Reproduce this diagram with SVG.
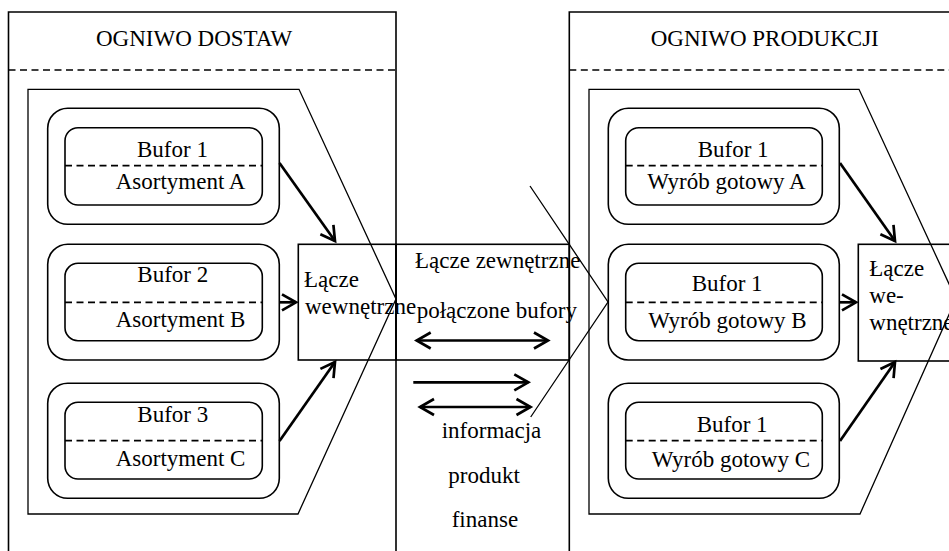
<svg xmlns="http://www.w3.org/2000/svg" width="949" height="551" viewBox="0 0 949 551">
<defs>
<style>
.t{font-family:'Liberation Serif','DejaVu Serif',serif;font-size:23px;fill:#000}
.box{fill:none;stroke:#000;stroke-width:1.6}
.pent{fill:none;stroke:#000;stroke-width:1.3}
.dash{fill:none;stroke:#000;stroke-width:1.7;stroke-dasharray:7 4.5}
.arr{fill:none;stroke:#000;stroke-width:2.7;marker-end:url(#ah)}
.dbl{fill:none;stroke:#000;stroke-width:2.7;marker-end:url(#ah);marker-start:url(#ah)}
.thin{fill:none;stroke:#000;stroke-width:1.3}
</style>
<marker id="ah" viewBox="-18 -11 22 22" refX="0" refY="0" markerWidth="22" markerHeight="22" markerUnits="userSpaceOnUse" orient="auto-start-reverse">
<path d="M-14,-8 L0,0 L-14,8" fill="none" stroke="#000" stroke-width="2.7"/>
</marker>
</defs>
<rect width="949" height="551" fill="#fff"/>

<g class="t" font-family="'Liberation Serif', 'DejaVu Serif', serif" font-size="23">
<g id="ogniwo-dostaw">
<path class="box" d="M8.5,560 V12 H396 V560"/>
<line class="dash" x1="8.5" y1="70" x2="396" y2="70"/>
<text x="96" y="46">OGNIWO DOSTAW</text>
<polygon class="pent" points="28,89.3 299,89.3 396,299 298,514 28,514"/>
</g>

<g id="bufor-1-a">
<rect class="box" x="47.7" y="108.3" width="231.6" height="116" rx="20"/>
<rect class="box" x="65" y="127.7" width="197.3" height="77.3" rx="13"/>
<line class="dash" x1="65" y1="165.7" x2="262.3" y2="165.7"/>
<text x="137" y="157.3">Bufor 1</text>
<text x="115.7" y="189.3">Asortyment A</text>
</g>
<g id="bufor-2-b">
<rect class="box" x="47.7" y="244.3" width="231.6" height="115.7" rx="20"/>
<rect class="box" x="65" y="263.3" width="197.3" height="77.4" rx="13"/>
<line class="dash" x1="65" y1="302.3" x2="262.3" y2="302.3"/>
<text x="137.3" y="282.3">Bufor 2</text>
<text x="115.7" y="326.7">Asortyment B</text>
</g>
<g id="bufor-3-c">
<rect class="box" x="47.7" y="383.3" width="231.6" height="115" rx="20"/>
<rect class="box" x="65" y="402.3" width="197.3" height="76.7" rx="13"/>
<line class="dash" x1="65" y1="440.7" x2="262.3" y2="440.7"/>
<text x="137.3" y="421.7">Bufor 3</text>
<text x="115.7" y="466">Asortyment C</text>
</g>
<g id="lacze-wewnetrzne-1">
<rect class="box" x="298.3" y="244.3" width="97.7" height="115.7"/>
<text x="304" y="287.3">Łącze</text>
<text x="305" y="313.5">wewnętrzne</text>
</g>

<g id="lacze-zewnetrzne">
<rect class="box" x="396" y="244.3" width="173.3" height="115.7"/>
<text x="415" y="268.3">Łącze zewnętrzne</text>
<text x="416.7" y="318">połączone bufory</text>
<text x="441.7" y="438.3">informacja</text>
<text x="448.3" y="483.3">produkt</text>
<text x="451.7" y="527.3">finanse</text>
</g>

<g id="ogniwo-produkcji">
<path class="box" d="M569.3,560 V12 H960"/>
<line class="dash" x1="569.3" y1="70" x2="960" y2="70"/>
<text x="650.7" y="46">OGNIWO PRODUKCJI</text>
<polygon class="pent" points="589,89.3 859,89.3 956,299 860,514 589,514"/>
</g>

<g id="bufor-1-wyrob-a">
<rect class="box" x="608.3" y="108.3" width="231" height="116" rx="20"/>
<rect class="box" x="625.7" y="127.7" width="196.6" height="77.3" rx="13"/>
<line class="dash" x1="625.7" y1="165.7" x2="822.3" y2="165.7"/>
<text x="697.7" y="157.3">Bufor 1</text>
<text x="647.3" y="189.3">Wyrób gotowy A</text>
</g>
<g id="bufor-1-wyrob-b">
<rect class="box" x="608.3" y="244.3" width="231" height="115.7" rx="20"/>
<rect class="box" x="625.7" y="263.3" width="196.6" height="77.4" rx="13"/>
<line class="dash" x1="625.7" y1="302.3" x2="822.3" y2="302.3"/>
<text x="691.7" y="291">Bufor 1</text>
<text x="648.3" y="328.3">Wyrób gotowy B</text>
</g>
<g id="bufor-1-wyrob-c">
<rect class="box" x="608.3" y="383.3" width="231" height="115" rx="20"/>
<rect class="box" x="625.7" y="402.3" width="196.6" height="76.7" rx="13"/>
<line class="dash" x1="625.7" y1="440.7" x2="822.3" y2="440.7"/>
<text x="696.7" y="431.7">Bufor 1</text>
<text x="651.7" y="466.7">Wyrób gotowy C</text>
</g>
<g id="lacze-wewnetrzne-2">
<rect class="box" x="858.3" y="244.3" width="110" height="116.7"/>
<text x="869.3" y="276">Łącze</text>
<text x="869.3" y="303.3">we-</text>
<text x="869.3" y="330">wnętrzne</text>
</g>
</g>

<g id="connectors">
<line class="arr" x1="279.5" y1="163" x2="335" y2="241"/>
<line class="arr" x1="279.5" y1="302.3" x2="296" y2="302.3"/>
<line class="arr" x1="279.5" y1="441" x2="335" y2="362"/>
<line class="arr" x1="840" y1="163" x2="895" y2="241"/>
<line class="arr" x1="840" y1="302.3" x2="856" y2="302.3"/>
<line class="arr" x1="840" y1="441" x2="895" y2="362"/>
<line class="dbl" x1="416.7" y1="340.5" x2="548" y2="340.5"/>
<line class="arr" x1="413.3" y1="382.3" x2="528.3" y2="382.3"/>
<line class="dbl" x1="420" y1="407" x2="530.5" y2="407"/>
<polyline class="thin" points="530,186 608,302 530.7,417"/>
</g>
</svg>
